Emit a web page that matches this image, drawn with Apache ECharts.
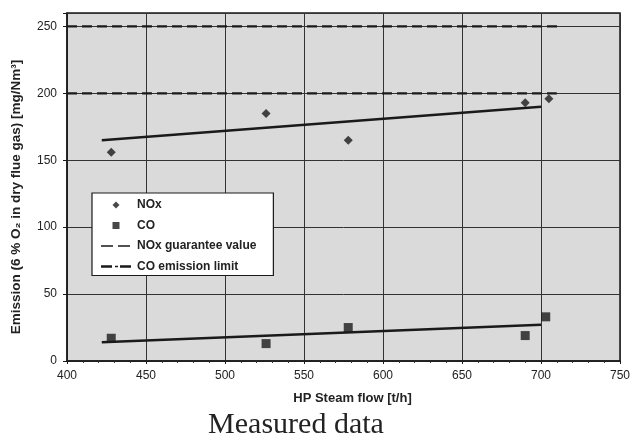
<!DOCTYPE html>
<html><head><meta charset="utf-8">
<script src="https://cdn.jsdelivr.net/npm/echarts@6/dist/echarts.min.js"></script>
<style>html,body{margin:0;padding:0;background:#fff}#c{width:633px;height:434px}</style>
</head><body><div id="c"></div>
<script>
// Data
const noxPoints = [[428,156],[526,185],[578,165],[690,193],[705,196]];
const coPoints = [[428,17],[526,13],[578,25],[690,19],[703,33]];
const noxTrend = [[422,165],[700,190]];
const coTrend = [[422,14],[700,27]];
const noxGuarantee = [[400,200],[710,200]];
const coLimit = [[400,250],[711,250]];
const xTicks = [400,450,500,550,600,650,700,750];
const yTicks = [0,50,100,150,200,250];

const chart = echarts.init(document.getElementById('c'));
const ink = '#1a1a1a';
const font = 'Liberation Sans';
chart.setOption({
  backgroundColor: '#fff',
  animation: false,
  title: {
    text: 'Measured data', left: 291, top: 405, textAlign: 'center',
    textStyle: {fontFamily: 'Liberation Serif', fontSize: 30, fontWeight: 'normal', color: '#222'}
  },
  grid: {left: 67, right: 11, top: 13, bottom: 73, show: true, backgroundColor: '#dadada', borderColor: ink, borderWidth: 1.5},
  legend: {
    orient: 'vertical', left: 92, top: 193,
    backgroundColor: '#fff', borderColor: ink, borderWidth: 1.2,
    padding: [6, 17, 3, 8], itemGap: 8.5, itemWidth: 32, itemHeight: 10,
    textStyle: {fontFamily: font, fontSize: 12, fontWeight: 'bold', color: '#222'},
    data: [
      {name: 'NOx', icon: 'path://M0,0M32,10M16,1.5L19.5,5L16,8.5L12.5,5Z'},
      {name: 'CO', icon: 'path://M0,0M32,10M12.5,1.5h7v7h-7Z'},
      {name: 'NOx guarantee value', icon: 'path://M0,0M32,10M1,4.2h12v1.6h-12ZM18,4.2h12v1.6h-12Z'},
      {name: 'CO emission limit', icon: 'path://M0,0M32,10M1,3.8h11v2.4h-11ZM15,4.2h3v1.6h-3ZM20,3.8h11v2.4h-11Z'}
    ]
  },
  xAxis: {
    type: 'value', min: xTicks[0], max: xTicks[xTicks.length-1], interval: 50,
    name: 'HP Steam flow [t/h]', nameLocation: 'middle', nameGap: 31,
    nameTextStyle: {fontFamily: font, fontSize: 13, fontWeight: 'bold', color: '#222', padding: [0,0,0,18]},
    axisLine: {lineStyle: {color: ink, width: 1.5}},
    axisTick: {show: true, length: 3, lineStyle: {color: ink}},
    minorTick: {show: true, splitNumber: 5, length: 2, lineStyle: {color: '#333'}},
    axisLabel: {fontFamily: font, fontSize: 12, color: '#222', margin: 9},
    splitLine: {show: true, lineStyle: {color: '#333', width: 1}}
  },
  yAxis: {
    type: 'value', min: 0, max: 260, interval: 50,
    name: 'Emission (6 % O\u2082 in dry flue gas) [mg/Nm\u00b3]', nameLocation: 'middle', nameGap: 44,
    nameTextStyle: {fontFamily: font, fontSize: 13.5, fontWeight: 'bold', color: '#222', padding: [0,20,0,0]},
    axisLine: {lineStyle: {color: ink, width: 1.5}},
    axisTick: {show: true, length: 4, lineStyle: {color: ink}},
    axisLabel: {fontFamily: font, fontSize: 12, color: '#222', margin: 10,
      formatter: v => yTicks.includes(v) ? String(v) : ''},
    splitLine: {show: true, lineStyle: {color: '#333', width: 1}}
  },
  series: [
    {name: 'NOx guarantee value', type: 'line', data: noxGuarantee, symbol: 'none',
     lineStyle: {color: ink, width: 2.2, type: [10, 5]}, itemStyle: {color: ink}, z: 3},
    {name: 'CO emission limit', type: 'line', data: coLimit, symbol: 'none',
     lineStyle: {color: ink, width: 2.4, type: [10, 5]}, itemStyle: {color: ink}, z: 3},
    {name: 'NOx trend', type: 'line', data: noxTrend, symbol: 'none',
     lineStyle: {color: ink, width: 2.5}, z: 4},
    {name: 'CO trend', type: 'line', data: coTrend, symbol: 'none',
     lineStyle: {color: ink, width: 2.5}, z: 4},
    {name: 'NOx', type: 'scatter', data: noxPoints, symbol: 'diamond', symbolSize: 9,
     itemStyle: {color: ink}, z: 5},
    {name: 'CO', type: 'scatter', data: coPoints, symbol: 'rect', symbolSize: 9,
     itemStyle: {color: ink}, z: 5}
  ]
});
</script></body></html>
